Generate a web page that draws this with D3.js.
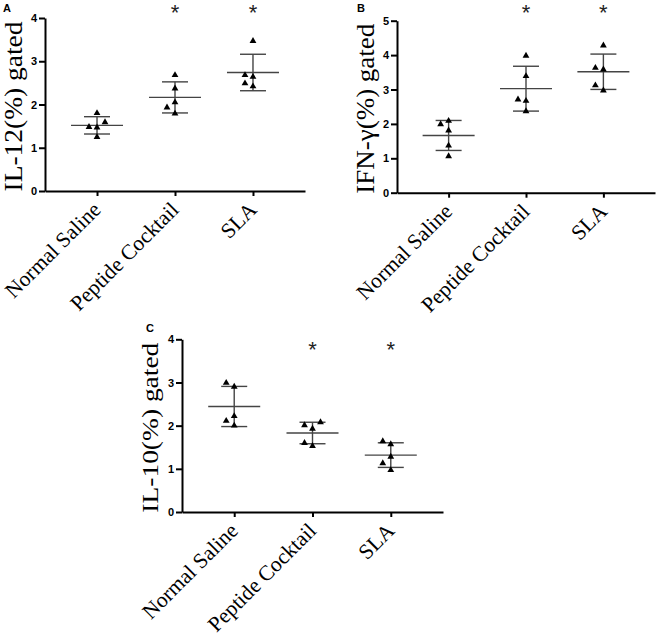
<!DOCTYPE html>
<html>
<head>
<meta charset="utf-8">
<script src="https://cdn.jsdelivr.net/npm/d3@7"></script>
<style>
  body { margin: 0; background: #fff; }
  .axis path, .axis line { stroke: #000; }
  .axis text { font-family: "Liberation Sans", Arial, sans-serif; font-weight: bold; font-size: 11px; fill: #000; }
</style>
</head>
<body>
<svg id="chart"></svg>
<script>
// groups on the x axis
const categories = ["Normal Saline", "Peptide Cocktail", "SLA"];

// individual values per group (5 animals each)
const il12Values = [
  [1.80, 1.48, 1.47, 1.59, 1.25],
  [2.68, 2.37, 2.05, 1.93, 1.79],
  [3.47, 2.68, 2.64, 2.49, 2.42]
];
const ifngValues = [
  [2.09, 1.99, 1.81, 1.37, 1.06],
  [3.98, 3.39, 2.71, 2.67, 2.37],
  [4.28, 3.63, 3.58, 3.12, 2.97]
];
const il10Values = [
  [2.99, 2.90, 2.22, 2.11, 2.00],
  [2.08, 2.01, 1.93, 1.60, 1.53],
  [1.64, 1.57, 1.28, 1.13, 0.97]
];

// significance marks per group
const il12Stars = ["", "*", "*"];
const ifngStars = ["", "*", "*"];
const il10Stars = ["", "*", "*"];

const yTicksA = [0, 1, 2, 3, 4];
const yTicksB = [0, 1, 2, 3, 4, 5];
const yTicksC = [0, 1, 2, 3, 4];

const svg = d3.select("#chart")
    .attr("width", 661)
    .attr("height", 638)
    .style("background-color", "#fff");

function drawPanel(cfg, values, stars, ticks) {
  let g = svg.append("g");

  let x = d3.scalePoint()
      .domain(categories)
      .range([cfg.left, cfg.right])
      .padding(0.667);

  let y = d3.scaleLinear()
      .domain([0, d3.max(ticks)])
      .range([cfg.bottom, cfg.top]);

  // y axis
  g.append("g")
      .attr("class", "axis")
      .attr("transform", `translate(${cfg.left},0)`)
      .call(d3.axisLeft(y).tickValues(ticks).tickFormat(d3.format("d"))
        .tickSize(6).tickSizeOuter(0).tickPadding(2))
      .call(a => a.selectAll("path, line").attr("stroke-width", 2));

  // x axis
  let xa = g.append("g")
      .attr("class", "axis")
      .attr("transform", `translate(0,${cfg.bottom})`)
      .call(d3.axisBottom(x).tickSize(5).tickSizeOuter(0))
      .call(a => a.selectAll("path, line").attr("stroke-width", 2));
  xa.selectAll("text").remove();

  // rotated group labels
  g.selectAll(".xlab")
    .data(categories)
    .join("text")
      .attr("class", "xlab")
      .attr("transform", d => `translate(${x(d) + 5},${cfg.bottom + 20}) rotate(-45)`)
      .attr("text-anchor", "end")
      .style("font-family", "'Liberation Serif', 'Times New Roman', serif")
      .style("font-size", "21.5px")
      .text(d => d);

  // y title
  g.append("text")
      .attr("transform", `translate(${cfg.titleX},${(cfg.bottom + cfg.top) / 2 + 2}) rotate(-90)`)
      .attr("text-anchor", "middle")
      .attr("textLength", 170)
      .attr("lengthAdjust", "spacingAndGlyphs")
      .style("font-family", "'Liberation Serif', 'Times New Roman', serif")
      .style("font-size", cfg.titleSize + "px")
      .text(cfg.title);

  // panel letter
  g.append("text")
      .attr("x", cfg.labelX)
      .attr("y", cfg.labelY)
      .style("font-family", "'Liberation Sans', Arial, sans-serif")
      .style("font-weight", "bold")
      .style("font-size", "11px")
      .text(cfg.label);

  const tri = d3.symbol().type(d3.symbolTriangle).size(20);

  values.forEach((vals, i) => {
    let cx = x(categories[i]);
    let m = d3.mean(vals);
    let sd = d3.deviation(vals);

    // mean and SD bars
    g.append("line")
        .attr("x1", cx - 26).attr("x2", cx + 26)
        .attr("y1", y(m)).attr("y2", y(m))
        .attr("stroke", "#444").attr("stroke-width", 1.4);
    g.append("line")
        .attr("x1", cx).attr("x2", cx)
        .attr("y1", y(m - sd)).attr("y2", y(m + sd))
        .attr("stroke", "#444").attr("stroke-width", 1.4);
    [m - sd, m + sd].forEach(v => {
      g.append("line")
          .attr("x1", cx - 13).attr("x2", cx + 13)
          .attr("y1", y(v)).attr("y2", y(v))
          .attr("stroke", "#444").attr("stroke-width", 1.4);
    });

    // dodge overlapping points sideways
    let placed = [];
    let sorted = vals.slice().sort((a, b) => a - b);
    sorted.forEach(v => {
      let py = y(v);
      let offs = [0, -8, 8, -16, 16];
      let dx = offs.find(o => placed.every(p => Math.hypot(p.dx - o, p.py - py) >= 7));
      placed.push({ dx: dx, py: py });
    });

    g.selectAll(null)
      .data(placed)
      .join("path")
        .attr("d", tri)
        .attr("transform", p => `translate(${cx + p.dx},${p.py})`)
        .attr("fill", "#000");

    if (stars[i]) {
      g.append("text")
          .attr("x", cx)
          .attr("y", cfg.starY)
          .attr("text-anchor", "middle")
          .style("font-family", "'Liberation Sans', Arial, sans-serif")
          .style("font-size", "22px")
          .style("fill", "#222")
          .text(stars[i]);
    }
  });
}

drawPanel({ left: 45, right: 305, top: 18, bottom: 191, title: "IL-12(%) gated", titleX: 22, titleSize: 26,
            label: "A", labelX: 3, labelY: 12, starY: 20 }, il12Values, il12Stars, yTicksA);
drawPanel({ left: 397, right: 655, top: 20.7, bottom: 192.7, title: "IFN-\u03b3(%) gated", titleX: 374, titleSize: 26,
            label: "B", labelX: 357, labelY: 12, starY: 20 }, ifngValues, ifngStars, yTicksB);
drawPanel({ left: 182, right: 443, top: 339.3, bottom: 512, title: "IL-10(%) gated", titleX: 158, titleSize: 23,
            label: "C", labelX: 146, labelY: 332, starY: 357 }, il10Values, il10Stars, yTicksC);
</script>
</body>
</html>
